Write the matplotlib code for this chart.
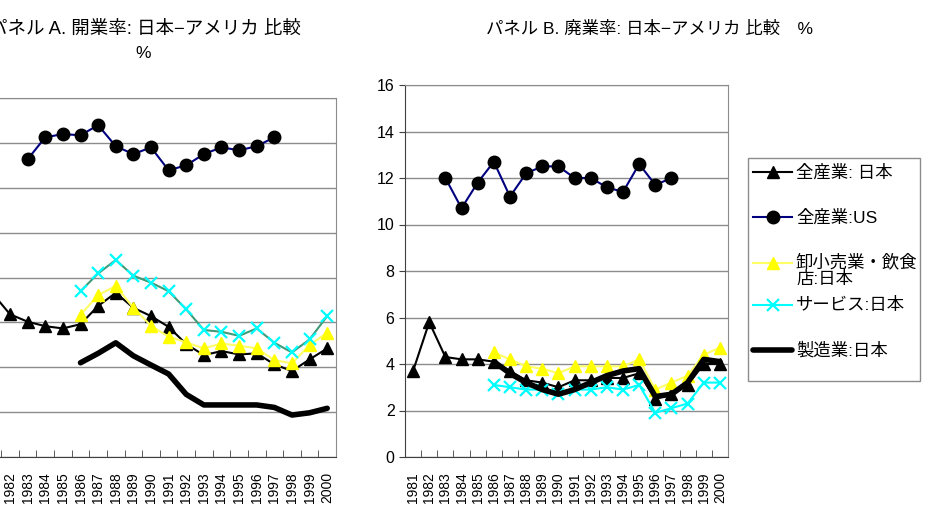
import numpy as np
import matplotlib
matplotlib.use("Agg")
import matplotlib.pyplot as plt
from matplotlib.lines import Line2D
from matplotlib.patches import Rectangle

plt.rcParams['font.family'] = ['Liberation Sans', 'Noto Sans CJK JP', 'DejaVu Sans']
mixed = ['Liberation Sans', 'Noto Sans CJK JP', 'DejaVu Sans']

nan = np.nan
years = [str(y) for y in range(1981, 2001)]

# Panel A - opening rate (%)
a_all_jp = [7.3, 6.36, 6.03, 5.83, 5.73, 5.92, 6.73, 7.32, 6.65, 6.28,
            5.8, 5.03, 4.54, 4.72, 4.57, 4.62, 4.13, 3.83, 4.35, 4.84]
a_all_us = [nan, nan, 13.27, 14.25, 14.39, 14.34, 14.79, 13.85, 13.5, 13.8,
            12.78, 13.0, 13.5, 13.8, 13.67, 13.85, 14.25, nan, nan, nan]
a_retail = [nan, nan, nan, nan, nan, 6.33, 7.22, 7.62, 6.65, 5.85,
            5.36, 5.11, 4.84, 5.06, 4.96, 4.84, 4.32, 4.17, 4.99, 5.54]
a_service = [nan, nan, nan, nan, nan, 7.39, 8.18, 8.78, 8.08, 7.77,
             7.39, 6.58, 5.66, 5.58, 5.4, 5.73, 5.09, 4.66, 5.24, 6.28]
a_manuf = [nan, nan, nan, nan, nan, 4.2, 4.62, 5.09, 4.51, 4.1,
           3.7, 2.79, 2.32, 2.32, 2.32, 2.32, 2.21, 1.87, 1.97, 2.17]

# Panel B - closing rate (%)
b_all_jp = [3.7, 5.8, 4.3, 4.2, 4.2, 4.1, 3.7, 3.3, 3.2, 3.0,
            3.3, 3.3, 3.4, 3.4, 3.6, 2.5, 2.7, 3.1, 4.0, 4.0]
b_all_us = [nan, nan, 12.0, 10.7, 11.8, 12.7, 11.2, 12.2, 12.5, 12.5,
            12.0, 12.0, 11.6, 11.4, 12.6, 11.7, 12.0, nan, nan, nan]
b_retail = [nan, nan, nan, nan, nan, 4.5, 4.2, 3.9, 3.8, 3.6,
            3.9, 3.9, 3.9, 3.9, 4.2, 2.9, 3.2, 3.5, 4.4, 4.7]
b_service = [nan, nan, nan, nan, nan, 3.1, 3.0, 2.9, 2.9, 2.7,
             2.9, 2.9, 3.0, 2.9, 3.1, 1.9, 2.1, 2.3, 3.2, 3.2]
b_manuf = [nan, nan, nan, nan, nan, 4.1, 3.6, 3.2, 2.9, 2.7,
           2.9, 3.2, 3.5, 3.7, 3.8, 2.6, 2.7, 3.2, 4.2, 4.1]

legend_labels = ['全産業: 日本', '全産業:US', '卸小売業・飲食\n店:日本', 'サービス:日本', '製造業:日本']

fig = plt.figure(figsize=(9.31, 5.12), dpi=100)
W, H = 931, 512

ax_a = fig.add_axes([-16.4 / W, 55 / H, 352.4 / W, 359 / H])
ax_b = fig.add_axes([405 / W, 55 / H, 323 / W, 372 / H])

x = np.arange(len(years))


def draw_panel(ax, all_jp, all_us, retail, service, manuf, service_line):
    ax.plot(x, all_jp, color='black', lw=1.5, marker='^', ms=8, mfc='black', mec='black', zorder=3)
    ax.plot(x, all_us, color='#000080', lw=1.5, marker='o', ms=9, mfc='black', mec='black', zorder=3)
    ax.plot(x, retail, color='#ffff66', lw=1.5, marker='^', ms=8, mfc='#ffff00', mec='#ffff00', zorder=3)
    ax.plot(x, service, color=service_line, lw=1.5, marker='x', ms=8, mew=1.6, mec='#00ffff', zorder=3)
    ax.plot(x, manuf, color='black', lw=4, zorder=3, solid_capstyle='round', solid_joinstyle='round')

    ax.set_xlim(-0.5, len(years) - 0.5)
    ax.set_ylim(0, 16)
    ax.set_yticks(np.arange(0, 17, 2))
    ax.grid(axis='y', color='#8c8c8c', lw=1)
    ax.set_axisbelow(True)

    # year labels at the centres, small tick marks on the boundaries
    ax.set_xticks(x)
    ax.set_xticklabels(years, rotation=90, fontsize=10)
    ax.tick_params(axis='x', which='major', length=0, pad=11)
    ax.set_xticks(np.arange(0.5, len(years) - 1, 1), minor=True)
    ax.tick_params(axis='x', which='minor', direction='in', length=5, color='#404040')
    ax.tick_params(axis='y', direction='out', length=4, labelsize=11.5, color='#404040')

    for s in ['top', 'right']:
        ax.spines[s].set_color('#8c8c8c')
    for s in ['left', 'bottom']:
        ax.spines[s].set_color('#404040')


draw_panel(ax_a, a_all_jp, a_all_us, a_retail, a_service, a_manuf, '#3f9a78')
draw_panel(ax_b, b_all_jp, b_all_us, b_retail, b_service, b_manuf, '#00ffff')

# titles (panel A title runs off the left edge like the original)
fig.text(301 / W, 1 - 29 / H, 'パネル A. 開業率: 日本−アメリカ 比較', ha='right', va='center',
         fontsize=13.3, family=mixed)
fig.text(143 / W, 1 - 53 / H, '%', ha='center', va='center', fontsize=12.5, family=mixed)
fig.text(650 / W, 1 - 29 / H, 'パネル B. 廃業率: 日本−アメリカ 比較　%', ha='center', va='center',
         fontsize=12.5, family=mixed)

# legend box drawn by hand so the two-line entry sits like the original
fig.patches.append(Rectangle((748 / W, 1 - 381 / H), 172 / W, 223 / H, transform=fig.transFigure,
                             fill=False, edgecolor='#8c8c8c', lw=1))
handle_styles = [
    dict(color='black', lw=1.5, marker='^', ms=8, mfc='black', mec='black'),
    dict(color='#000080', lw=1.5, marker='o', ms=9, mfc='black', mec='black'),
    dict(color='#ffff66', lw=1.5, marker='^', ms=8, mfc='#ffff00', mec='#ffff00'),
    dict(color='#00ffff', lw=1.5, marker='x', ms=8, mew=1.6, mec='#00ffff'),
    dict(color='black', lw=4, solid_capstyle='round'),
]
entry_y = [172, 217, 263, 305, 350]
for lab, st, yy in zip(legend_labels, handle_styles, entry_y):
    yf = 1 - yy / H
    fig.lines.append(Line2D([753 / W, 792 / W], [yf, yf], transform=fig.transFigure, **st))
    fig.lines[-1].set_markevery([])
    fig.lines.append(Line2D([772.5 / W], [yf], transform=fig.transFigure, **st))
    if '\n' in lab:
        fig.text(796 / W, 1 - (yy - 10) / H, lab, ha='left', va='top',
                 fontsize=12.5, family=mixed, linespacing=1.05)
    else:
        fig.text(796 / W, yf, lab, ha='left', va='center', fontsize=12.5, family=mixed)

plt.savefig('out.png', dpi=100)
